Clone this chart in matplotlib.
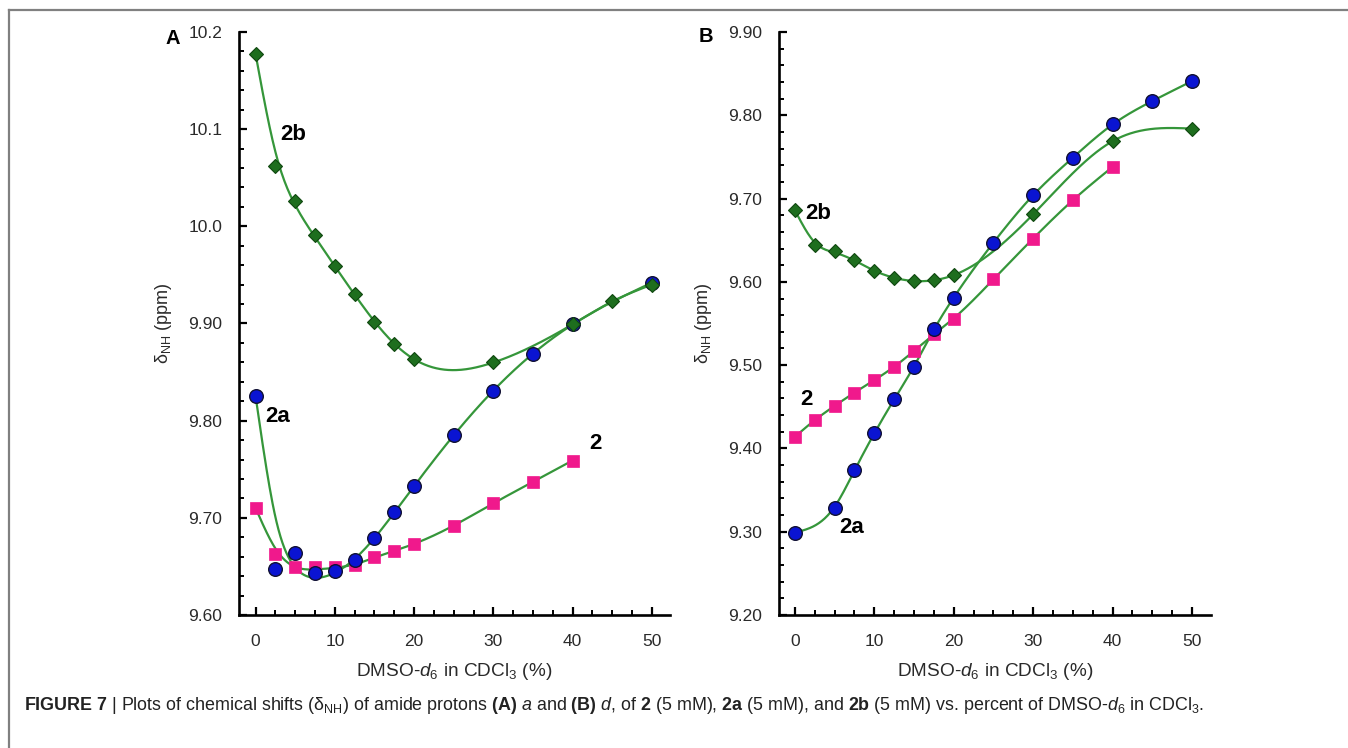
import numpy as np
import matplotlib
matplotlib.use('Agg')
import matplotlib.pyplot as plt
from matplotlib.lines import Line2D
from matplotlib.ticker import MultipleLocator, FixedLocator

plt.rcParams['font.family'] = ['Liberation Sans', 'DejaVu Sans']
plt.rcParams['mathtext.fontset'] = 'custom'
plt.rcParams['mathtext.rm'] = 'Liberation Sans'
plt.rcParams['mathtext.it'] = 'Liberation Sans:italic'
plt.rcParams['mathtext.bf'] = 'Liberation Sans:bold'

# panel A (amide proton a)
A_x_2b = [0, 2.5, 5, 7.5, 10, 12.5, 15, 17.5, 20, 30, 40, 45, 50]
A_y_2b = [10.177, 10.062, 10.026, 9.991, 9.959, 9.930, 9.902, 9.879, 9.863, 9.860, 9.899, 9.923, 9.940]
A_x_2a = [0, 2.5, 5, 7.5, 10, 12.5, 15, 17.5, 20, 25, 30, 35, 40, 50]
A_y_2a = [9.825, 9.647, 9.664, 9.643, 9.645, 9.657, 9.679, 9.706, 9.733, 9.785, 9.831, 9.869, 9.899, 9.942]
A_x_2 = [0, 2.5, 5, 7.5, 10, 12.5, 15, 17.5, 20, 25, 30, 35, 40]
A_y_2 = [9.710, 9.663, 9.649, 9.649, 9.649, 9.651, 9.660, 9.666, 9.673, 9.692, 9.715, 9.737, 9.759]

# panel B (amide proton d)
B_x_2b = [0, 2.5, 5, 7.5, 10, 12.5, 15, 17.5, 20, 30, 40, 50]
B_y_2b = [9.686, 9.644, 9.637, 9.626, 9.613, 9.605, 9.601, 9.602, 9.608, 9.681, 9.769, 9.784]
B_x_2a = [0, 5, 7.5, 10, 12.5, 15, 17.5, 20, 25, 30, 35, 40, 45, 50]
B_y_2a = [9.299, 9.329, 9.374, 9.418, 9.459, 9.498, 9.543, 9.581, 9.647, 9.704, 9.749, 9.789, 9.817, 9.841]
B_x_2 = [0, 2.5, 5, 7.5, 10, 12.5, 15, 17.5, 20, 25, 30, 35, 40]
B_y_2 = [9.414, 9.434, 9.451, 9.467, 9.482, 9.498, 9.517, 9.537, 9.556, 9.603, 9.652, 9.698, 9.738]

A_yticks = [9.6, 9.7, 9.8, 9.9, 10.0, 10.1, 10.2]
A_yticklabels = ['9.60', '9.70', '9.80', '9.90', '10.0', '10.1', '10.2']
B_yticks = [9.2, 9.3, 9.4, 9.5, 9.6, 9.7, 9.8, 9.9]
B_yticklabels = ['9.20', '9.30', '9.40', '9.50', '9.60', '9.70', '9.80', '9.90']
xticks = [0, 10, 20, 30, 40, 50]

LINE = '#35963a'


def smooth(x, y, lam=0.0, n=400):
    # smoothing spline (Reinsch), ends held in place, then natural cubic through the fit
    x = np.asarray(x, float)
    y = np.asarray(y, float)
    h = np.diff(x)
    m = len(x)
    if lam > 0:
        Q = np.zeros((m, m - 2))
        R = np.zeros((m - 2, m - 2))
        for k in range(m - 2):
            Q[k, k] = 1 / h[k]
            Q[k + 1, k] = -1 / h[k] - 1 / h[k + 1]
            Q[k + 2, k] = 1 / h[k + 1]
            R[k, k] = (h[k] + h[k + 1]) / 3
            if k < m - 3:
                R[k, k + 1] = R[k + 1, k] = h[k + 1] / 6
        W = np.eye(m)
        W[0, 0] = W[-1, -1] = 200
        K = Q @ np.linalg.solve(R, Q.T)
        y = np.linalg.solve(W + lam * K, W @ y)
    M = np.zeros((m, m))
    r = np.zeros(m)
    M[0, 0] = M[-1, -1] = 1
    for i in range(1, m - 1):
        M[i, i - 1] = h[i - 1]
        M[i, i] = 2 * (h[i - 1] + h[i])
        M[i, i + 1] = h[i]
        r[i] = 3 * ((y[i + 1] - y[i]) / h[i] - (y[i] - y[i - 1]) / h[i - 1])
    c = np.linalg.solve(M, r)
    b = (y[1:] - y[:-1]) / h - h * (2 * c[:-1] + c[1:]) / 3
    d = (c[1:] - c[:-1]) / (3 * h)
    xs = np.linspace(x[0], x[-1], n)
    k = np.clip(np.searchsorted(x, xs) - 1, 0, m - 2)
    dx = xs - x[k]
    return xs, y[k] + b[k] * dx + c[k] * dx ** 2 + d[k] * dx ** 3


def style(ax, xlim, ylim, yticks, yticklabels):
    ax.set_xlim(*xlim)
    ax.set_ylim(*ylim)
    for s in ['top', 'right']:
        ax.spines[s].set_visible(False)
    for s in ['left', 'bottom']:
        ax.spines[s].set_linewidth(1.9)
    ax.xaxis.set_major_locator(FixedLocator(xticks))
    ax.xaxis.set_minor_locator(MultipleLocator(2.5))
    ax.yaxis.set_major_locator(FixedLocator(yticks))
    ax.set_yticklabels(yticklabels)
    ax.yaxis.set_minor_locator(MultipleLocator(0.02))
    ax.tick_params(axis='both', which='major', direction='in', length=6, width=1.6,
                   labelsize=12.5, labelcolor='#2a2a2a')
    ax.tick_params(axis='both', which='minor', direction='in', length=3.5, width=1.4)
    ax.tick_params(axis='x', which='major', pad=14)
    ax.tick_params(axis='y', which='major', pad=12)
    ax.set_xlabel('DMSO-$\\it{d}_6$ in CDCl$_3$ (%)', fontsize=13.7, labelpad=8, color='#2a2a2a')
    ax.set_ylabel('δ$_{\\rm NH}$ (ppm)', fontsize=13, labelpad=10, color='#2a2a2a')


def draw(ax, x2, y2, x2a, y2a, x2b, y2b, lams):
    for (x, y), lam in zip([(x2, y2), (x2a, y2a), (x2b, y2b)], lams):
        xs, ys = smooth(x, y, lam)
        ax.plot(xs, ys, color=LINE, lw=1.6, zorder=2)
    ax.plot(x2, y2, 's', ms=9, mfc='#f0198c', mec='#f0198c', mew=0.5, zorder=3)
    ax.plot(x2a, y2a, 'o', ms=9.8, mfc='#0a14d2', mec='#111133', mew=1, zorder=4)
    ax.plot(x2b, y2b, 'D', ms=7, mfc='#1e6e1e', mec='#0f470f', mew=0.8, zorder=5)


fig = plt.figure(figsize=(13.48, 7.48), dpi=100)

# frame around the figure
fig.add_artist(Line2D([9 / 1348, 9 / 1348], [0, 1 - 10 / 748], color='#808080', lw=1.6))
fig.add_artist(Line2D([9 / 1348, 1], [1 - 10 / 748, 1 - 10 / 748], color='#808080', lw=1.6))

lbl = dict(fontsize=16, fontweight='bold', ha='center', va='center')

axA = fig.add_axes([239 / 1348, 1 - 615 / 748, 431 / 1348, 583 / 748])
style(axA, (-2.1, 52.3), (9.6, 10.2), A_yticks, A_yticklabels)
draw(axA, A_x_2, A_y_2, A_x_2a, A_y_2a, A_x_2b, A_y_2b, lams=(2.0, 5.0, 2.0))
axA.text(4.7, 10.095, '2b', **lbl)
axA.text(2.8, 9.804, '2a', **lbl)
axA.text(42.9, 9.777, '2', **lbl)

axB = fig.add_axes([779 / 1348, 1 - 615 / 748, 432 / 1348, 583 / 748])
style(axB, (-2.0, 52.4), (9.2, 9.9), B_yticks, B_yticklabels)
draw(axB, B_x_2, B_y_2, B_x_2a, B_y_2a, B_x_2b, B_y_2b, lams=(0.3, 0.3, 0.6))
axB.text(2.9, 9.682, '2b', **lbl)
axB.text(1.5, 9.459, '2', **lbl)
axB.text(7.2, 9.305, '2a', **lbl)

fig.text(173 / 1348, 1 - 38 / 748, 'A', fontsize=14.5, fontweight='bold', ha='center', va='center')
fig.text(706 / 1348, 1 - 37 / 748, 'B', fontsize=14.5, fontweight='bold', ha='center', va='center')

caption = ('$\\bf{FIGURE\\ 7}$ | Plots of chemical shifts (δ$_{\\rm NH}$) of amide protons '
           '$\\bf{(A)}$ $\\it{a}$ and $\\bf{(B)}$ $\\it{d}$, of $\\bf{2}$ (5 mM), $\\bf{2a}$ (5 mM), '
           'and $\\bf{2b}$ (5 mM) vs. percent of DMSO-$\\it{d}_6$ in CDCl$_3$.')
fig.text(24 / 1348, 1 - 705 / 748, caption, fontsize=12.9, ha='left', va='center', color='#222222')

fig.savefig('out.png', dpi=100)
